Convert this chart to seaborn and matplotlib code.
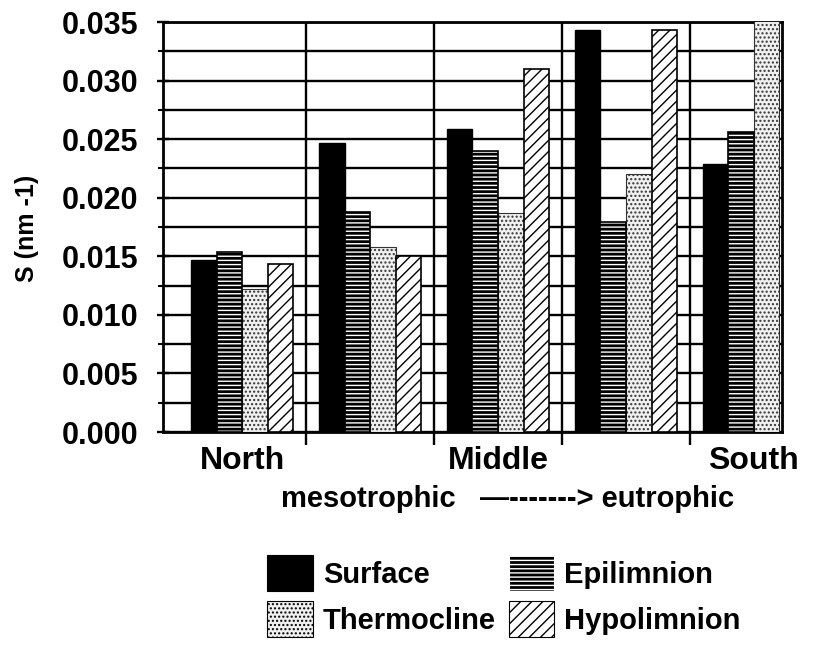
import numpy as np
import pandas as pd
import matplotlib
matplotlib.use("Agg")
import matplotlib.pyplot as plt
from matplotlib.patches import Patch, Rectangle
from matplotlib.ticker import MultipleLocator, FormatStrFormatter, FixedLocator
import seaborn as sns

# ---------------- data ----------------
regions = ["North", "North-Middle", "Middle", "Middle-South", "South"]
tick_labels = ["North", "", "Middle", "", "South"]
layers = ["Surface", "Epilimnion", "Thermocline", "Hypolimnion"]
surface = [0.0147, 0.0247, 0.0259, 0.0343, 0.0229]
epilimnion = [0.0154, 0.0188, 0.0240, 0.0179, 0.0256]
thermocline = [0.0122, 0.0158, 0.0187, 0.0220, 0.0380]
hypolimnion = [0.0143, 0.0150, 0.0310, 0.0343, np.nan]
y_label = "S (nm -1)"
subtitle = "mesotrophic   \u2014-------> eutrophic"

# ---------------- style ----------------
sns.set_theme(style="white")
plt.rcParams["font.family"] = ["Liberation Sans", "DejaVu Sans"]
plt.rcParams["font.weight"] = "bold"
plt.rcParams["text.color"] = "black"
plt.rcParams["hatch.linewidth"] = 1.0

records = []
for layer, vals in zip(layers, [surface, epilimnion, thermocline, hypolimnion]):
    for r, v in zip(regions, vals):
        records.append({"region": r, "layer": layer, "S": v})
df = pd.DataFrame(records)

styles = {
    "Surface": dict(facecolor="black", edgecolor="black", hatch=None, linewidth=1.0),
    "Epilimnion": dict(facecolor="#000000", edgecolor="white", hatch="----", linewidth=0),
    "Thermocline": dict(facecolor="#f0f0f0", edgecolor="#333333", hatch="....", linewidth=0.8),
    "Hypolimnion": dict(facecolor="white", edgecolor="black", hatch="///", linewidth=1.2),
}

fig = plt.figure(figsize=(8.25, 6.46), dpi=100)
ax = fig.add_axes([163 / 825, 1 - 432 / 646, (782 - 163) / 825, (432 - 22) / 646])

sns.barplot(data=df, x="region", y="S", hue="layer", order=regions,
            hue_order=layers, errorbar=None, width=0.8, ax=ax, legend=False,
            palette=["black", "black", "white", "white"])

for layer, cont in zip(layers, ax.containers):
    st = styles[layer]
    for p in cont.patches:
        p.set_facecolor(st["facecolor"])
        p.set_edgecolor(st["edgecolor"])
        p.set_hatch(st["hatch"])
        p.set_linewidth(st["linewidth"])
        p.set_zorder(3)
        if layer == "Epilimnion":
            ax.add_patch(Rectangle(p.get_xy(), p.get_width(), p.get_height(),
                                   fill=False, edgecolor="black", lw=1.2, zorder=4))

ax.set_xlim(-0.62, 4.22)
ax.set_ylim(0, 0.035)

ax.yaxis.set_major_locator(MultipleLocator(0.005))
ax.yaxis.set_minor_locator(MultipleLocator(0.0025))
ax.yaxis.set_major_formatter(FormatStrFormatter("%.3f"))
ax.set_xticks(range(len(regions)))
ax.set_xticklabels(tick_labels, fontsize=23, fontweight="bold")
ax.xaxis.set_minor_locator(FixedLocator([0.5, 1.5, 2.5, 3.5]))

ax.set_axisbelow(True)
ax.grid(which="both", axis="y", color="black", linewidth=1.7, zorder=0)
ax.grid(which="minor", axis="x", color="black", linewidth=1.7, zorder=0)
ax.grid(which="major", axis="x", visible=False)

ax.tick_params(axis="y", which="major", left=True, direction="inout", length=9,
               width=1.7, color="black", labelsize=22, pad=13, labelcolor="black")
ax.tick_params(axis="y", which="minor", left=True, direction="inout", length=7,
               width=1.5, color="black")
ax.tick_params(axis="x", which="major", bottom=True, length=0, pad=10,
               labelcolor="black")
ax.tick_params(axis="x", which="minor", bottom=True, direction="out", length=9,
               width=1.7, color="black")

for s in ax.spines.values():
    s.set_visible(True)
    s.set_color("black")
    s.set_linewidth(2)

ax.set_xlabel("")
ax.set_ylabel("")
fig.text(27 / 825, 1 - 228 / 646, y_label, rotation=90, ha="center", va="center",
         fontsize=18, fontweight="bold")
fig.text(508 / 825, 1 - 499 / 646, subtitle, ha="center", va="center",
         fontsize=21, fontweight="bold")

handle_map = {}
for layer in layers:
    st = styles[layer]
    handle_map[layer] = Patch(facecolor=st["facecolor"],
                              edgecolor=("black" if layer != "Epilimnion" else "white"),
                              hatch=st["hatch"], linewidth=0.8, label=layer)
order = ["Surface", "Thermocline", "Epilimnion", "Hypolimnion"]
leg = fig.legend(handles=[handle_map[k] for k in order], labels=order, ncol=2,
                 loc="center", bbox_to_anchor=(504 / 825, 1 - 596 / 646),
                 frameon=False, fontsize=21, handlelength=1.55, handleheight=1.5,
                 handletextpad=0.35, columnspacing=0.45, labelspacing=0.35,
                 borderpad=0.0, borderaxespad=0.0)
for t in leg.get_texts():
    t.set_fontweight("bold")
    t.set_color("black")

fig.savefig("out.png", dpi=100, facecolor="white")
